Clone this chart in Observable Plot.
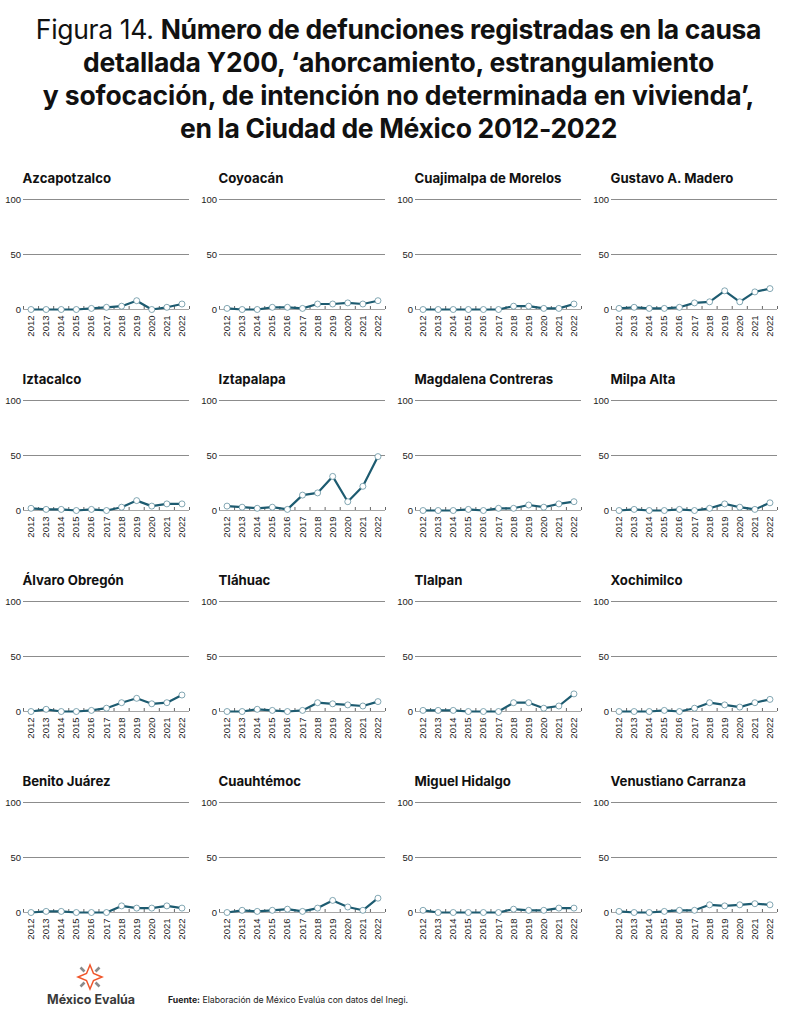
<!DOCTYPE html>
<html><head><meta charset="utf-8">
<script src="https://cdn.jsdelivr.net/npm/d3@7"></script>
<script src="https://cdn.jsdelivr.net/npm/@observablehq/plot@0.6"></script>
<style>
html,body{margin:0;padding:0;background:#fff;width:797px;height:1024px;overflow:hidden;position:relative}
#title{position:absolute;left:0;top:13px;width:797px;text-align:center;font:400 26.5px/33px Inter,sans-serif;color:#111;letter-spacing:-0.33px}
#title b{font-weight:700}
#chart{position:absolute;left:0;top:160px}
#logo{position:absolute;left:72px;top:959px}
#brand{position:absolute;left:47px;top:992px;font:700 12.5px Inter,sans-serif;color:#3a3a3a}
#src{position:absolute;left:168px;top:995px;font:400 8.7px Inter,sans-serif;color:#222}
</style></head><body>
<div id="title">Figura 14. <b>Número de defunciones registradas en la causa<br><span style="letter-spacing:-0.2px">detallada Y200, ‘ahorcamiento, estrangulamiento</span><br><span style="letter-spacing:-0.12px">y sofocación, de intención no determinada en vivienda’,</span><br>en la Ciudad de México 2012-2022</b></div>
<div id="chart"></div>
<svg id="logo" width="36" height="36" viewBox="-18 -18 36 36">
<g stroke="#8a8a8a" stroke-width="2.6"><path d="M-9.5-9.5L-5.5-5.5M9.5-9.5L5.5-5.5M-9.5 9.5L-5.5 5.5M9.5 9.5L5.5 5.5"/></g>
<path d="M0-12L3.5-3.5L12 0L3.5 3.5L0 12L-3.5 3.5L-12 0L-3.5-3.5Z" fill="none" stroke="#f0562b" stroke-width="1.5"/>
</svg>
<div id="brand">México Evalúa</div>
<div id="src"><b>Fuente:</b> Elaboración de México Evalúa con datos del Inegi.</div>
<script>
const years = [2012,2013,2014,2015,2016,2017,2018,2019,2020,2021,2022];
const names = ["Azcapotzalco","Coyoacán","Cuajimalpa de Morelos","Gustavo A. Madero","Iztacalco","Iztapalapa","Magdalena Contreras","Milpa Alta","Álvaro Obregón","Tláhuac","Tlalpan","Xochimilco","Benito Juárez","Cuauhtémoc","Miguel Hidalgo","Venustiano Carranza"];
const azcapotzalco = [0,0,0,0,1,2,3,8,0,2,5];
const coyoacan = [1,0,0,2,2,1,5,5,6,5,8];
const cuajimalpa = [0,0,0,0,0,0,3,3,1,1,5];
const gam = [1,2,1,1,2,6,7,17,7,16,19];
const iztacalco = [2,1,1,0,1,0,3,9,4,6,6];
const iztapalapa = [4,3,2,3,1,14,16,31,8,22,49];
const magdalena = [0,0,0,1,0,2,2,5,3,6,8];
const milpa = [0,1,0,0,1,0,2,6,3,1,7];
const obregon = [0,2,0,0,1,3,8,12,7,8,15];
const tlahuac = [0,0,2,1,0,1,8,7,6,5,9];
const tlalpan = [1,1,1,0,0,0,8,8,3,5,16];
const xochimilco = [0,0,0,1,0,3,8,6,4,8,11];
const juarez = [0,1,1,0,0,0,6,4,4,6,4];
const cuauhtemoc = [0,2,1,2,3,1,4,11,5,2,13];
const hidalgo = [2,0,0,0,0,0,3,2,2,4,4];
const carranza = [1,0,0,1,2,2,7,6,7,8,7];
const series = [azcapotzalco,coyoacan,cuajimalpa,gam,iztacalco,iztapalapa,magdalena,milpa,obregon,tlahuac,tlalpan,xochimilco,juarez,cuauhtemoc,hidalgo,carranza];
const rows = names.flatMap((name,i)=>series[i].map((v,j)=>({name,year:years[j],v,col:i%4,row:Math.floor(i/4)})));
const panels = names.map((name,i)=>({name,col:i%4,row:Math.floor(i/4)}));
const grid = panels.flatMap(p=>[50,100].map(g=>({...p,g})));
const edges = [...years.map(y=>y-0.5),2022.5];
const plot = Plot.plot({
  width:797,height:800,marginLeft:22.5,marginRight:18.3,marginTop:39,marginBottom:47,
  style:{fontFamily:"'Liberation Sans',sans-serif",fontSize:"9.5px",color:"#222",background:"transparent",overflow:"visible"},
  fx:{axis:null,domain:[0,1,2,3],paddingInner:0.1527,paddingOuter:0,align:0},
  fy:{axis:null,domain:[0,1,2,3],paddingInner:0.4535,paddingOuter:0,align:0},
  x:{domain:[2011.5,2022.5],axis:null},
  y:{domain:[0,100],axis:null},
  marks:[
    Plot.ruleY(grid,{y:"g",fx:"col",fy:"row",stroke:"#8c8c8c",strokeWidth:1,strokeOpacity:1}),
    Plot.ruleY(panels,{y:()=>0,fx:"col",fy:"row",stroke:"#a6a6a6",strokeWidth:1.2,strokeOpacity:1}),
    Plot.axisX({ticks:edges,tickFormat:()=>"",tickSize:-3,anchor:"bottom",facetAnchor:null,stroke:"#666",strokeOpacity:1,tickPadding:0,label:null}),
    Plot.axisX({ticks:years,tickFormat:d=>String(d),tickSize:0,anchor:"bottom",facetAnchor:null,tickRotate:-90,tickPadding:6,fill:"#222",label:null}),
    Plot.axisY({ticks:[0,50,100],tickSize:0,tickPadding:2.5,anchor:"left",facetAnchor:null,label:null,fill:"#222"}),
    Plot.lineY(rows,{x:"year",y:"v",fx:"col",fy:"row",stroke:"#1d5b70",strokeWidth:2.2}),
    Plot.dot(rows,{x:"year",y:"v",fx:"col",fy:"row",r:3,fill:"#fff",stroke:"#4f8294",strokeWidth:0.7}),
    Plot.text(panels,{text:"name",fx:"col",fy:"row",frameAnchor:"top-left",dy:-26,dx:-1,textAnchor:"start",fontSize:13.2,fontWeight:700,fontFamily:"Inter,sans-serif",fill:"#111"})
  ]
});
document.getElementById("chart").append(plot);
</script></body></html>
